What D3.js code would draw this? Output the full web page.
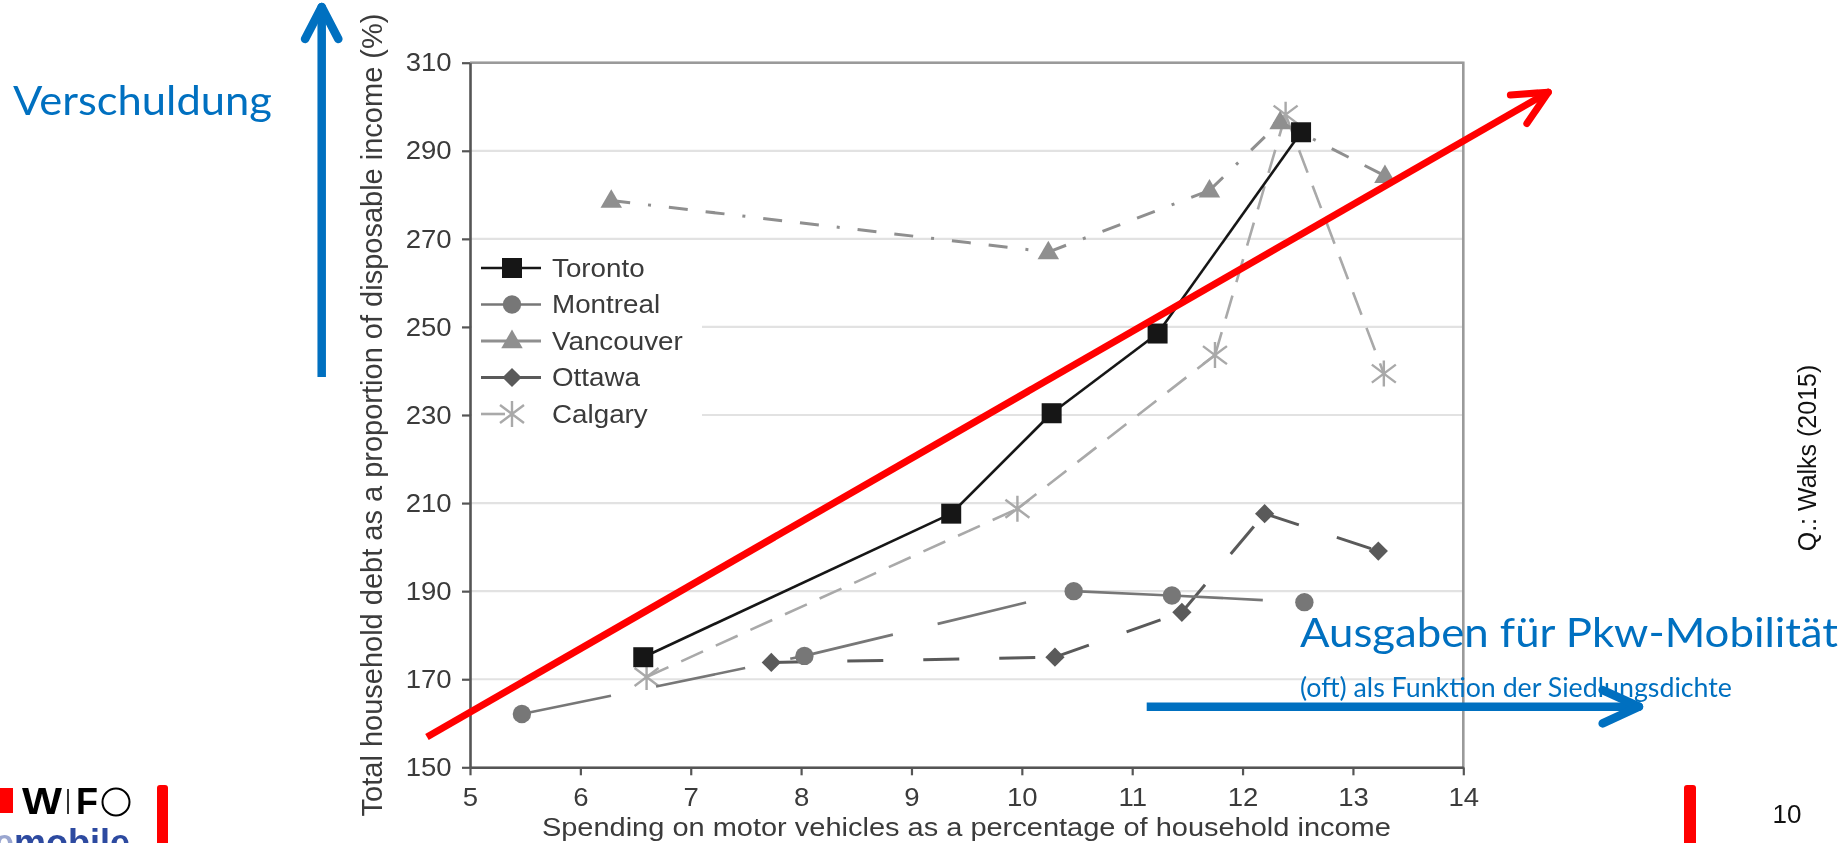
<!DOCTYPE html>
<html>
<head>
<meta charset="utf-8">
<script src="https://cdn.jsdelivr.net/npm/d3@7"></script>
<style>
  html, body { margin: 0; padding: 0; background: #fff; }
  svg { display: block; }
</style>
</head>
<body>
<svg id="slide" width="1848" height="843"></svg>
<script>
// Household debt vs. spending on motor vehicles for five Canadian cities (Walks 2015)
const cities = ["Toronto", "Montreal", "Vancouver", "Ottawa", "Calgary"];

// spending on motor vehicles (% of household income)
const torontoX   = [6.57, 9.36, 10.27, 11.23, 12.53];
const montrealX  = [5.47, 8.03, 10.47, 11.36, 12.56];
const vancouverX = [6.28, 10.24, 11.70, 12.34, 13.29];
const ottawaX    = [7.73, 10.30, 11.45, 12.20, 13.23];
const calgaryX   = [6.60, 9.96, 11.75, 12.39, 13.28];

// total household debt (% of disposable income)
const torontoY   = [175.0, 207.6, 230.4, 248.5, 294.2];
const montrealY  = [162.1, 175.3, 190.0, 189.0, 187.5];
const vancouverY = [278.7, 267.0, 281.0, 296.5, 284.3];
const ottawaY    = [173.8, 175.0, 185.2, 207.6, 199.1];
const calgaryY   = [170.5, 208.7, 243.6, 298.2, 239.4];

const xTicks = [5, 6, 7, 8, 9, 10, 11, 12, 13, 14];
const yTicks = [150, 170, 190, 210, 230, 250, 270, 290, 310];

// trend arrow drawn over the chart, in data units
const trendX = [4.61, 14.77];
const trendY = [156.9, 303.3];

const xTitle = "Spending on motor vehicles as a percentage of household income";
const yTitle = "Total household debt as a proportion of disposable income (%)";

const seriesX = { Toronto: torontoX, Montreal: montrealX, Vancouver: vancouverX, Ottawa: ottawaX, Calgary: calgaryX };
const seriesY = { Toronto: torontoY, Montreal: montrealY, Vancouver: vancouverY, Ottawa: ottawaY, Calgary: calgaryY };

const style = {
  Toronto:   { color: "#161616", width: 2.6, dash: null,                 offset: 0,  symbol: "square" },
  Montreal:  { color: "#777777", width: 2.6, dash: "91,46",              offset: 0,  symbol: "circle" },
  Vancouver: { color: "#8f8f8f", width: 3.0, dash: "19,18,19,18,3,18",   offset: 37, symbol: "triangle" },
  Ottawa:    { color: "#5a5a5a", width: 3.0, dash: "36,40",              offset: 0,  symbol: "diamond" },
  Calgary:   { color: "#a9a9a9", width: 2.6, dash: "24,14",              offset: 0,  symbol: "asterisk" }
};

const svg = d3.select("#slide");
const chartFont = "'Liberation Sans', Arial, Helvetica, sans-serif";
const noteFont = "Lato, 'Open Sans', sans-serif";
const blue = "#0070C0";
const inkGray = "#3a3a3a";
const labelSize = 25.5;   // chart lettering is slightly wide
const labelStretch = 1.08;

const defs = svg.append("defs");
defs.append("filter").attr("id", "soft")
  .attr("x", "-5%").attr("y", "-5%").attr("width", "110%").attr("height", "110%")
  .append("feGaussianBlur").attr("stdDeviation", 0.65);

const x = d3.scaleLinear().domain([5, 14]).range([470, 1463.3]);
const y = d3.scaleLinear().domain([150, 310]).range([767.3, 62.7]);

const chart = svg.append("g").attr("filter", "url(#soft)");

// horizontal grid
chart.append("g").selectAll("line").data(yTicks).join("line")
  .attr("x1", x(5)).attr("x2", x(14))
  .attr("y1", d => y(d)).attr("y2", d => y(d))
  .attr("stroke", "#e2e2e2").attr("stroke-width", 2.2);

// top and right frame
chart.append("path")
  .attr("d", `M${x(5)},${y(310)}H${x(14)}V${y(150)}`)
  .attr("fill", "none").attr("stroke", "#9a9a9a").attr("stroke-width", 2.6);

// axes
const yAxis = chart.append("g").attr("transform", `translate(${x(5)},0)`)
  .call(d3.axisLeft(y).tickValues(yTicks).tickSize(8).tickSizeOuter(0).tickPadding(9));
const xAxis = chart.append("g").attr("transform", `translate(0,${y(150)})`)
  .call(d3.axisBottom(x).tickValues(xTicks).tickSize(8).tickSizeOuter(0).tickPadding(13));
[yAxis, xAxis].forEach(a => {
  a.select(".domain").attr("stroke", "#555").attr("stroke-width", 2.6);
  a.selectAll(".tick line").attr("stroke", "#555").attr("stroke-width", 2.2);
  a.selectAll(".tick text").attr("fill", inkGray)
    .attr("transform", `scale(${labelStretch},1)`)
    .style("font-family", chartFont).style("font-size", labelSize + "px");
});

// axis titles
chart.append("text")
  .attr("x", 966.4).attr("y", 836)
  .attr("text-anchor", "middle").attr("fill", inkGray)
  .attr("textLength", 849).attr("lengthAdjust", "spacingAndGlyphs")
  .style("font-family", chartFont).style("font-size", "25.5px")
  .text(xTitle);
chart.append("text")
  .attr("transform", `translate(382,${(y(150) + y(310)) / 2}) rotate(-90)`)
  .attr("text-anchor", "middle").attr("fill", inkGray)
  .style("font-family", chartFont).style("font-size", "29px")
  .text(yTitle);

// marker shapes
function drawMarker(g, kind, color) {
  if (kind === "square") {
    g.append("path").attr("d", d3.symbol(d3.symbolSquare, 400)()).attr("fill", color);
  } else if (kind === "circle") {
    g.append("circle").attr("r", 9.2).attr("fill", color);
  } else if (kind === "triangle") {
    g.append("path").attr("d", d3.symbol(d3.symbolTriangle, 200)()).attr("fill", color)
      .attr("transform", "translate(0,1)");
  } else if (kind === "diamond") {
    g.append("path").attr("d", d3.symbol(d3.symbolSquare, 185)()).attr("fill", color)
      .attr("transform", "rotate(45)");
  } else if (kind === "asterisk") {
    g.append("path")
      .attr("d", "M0,-13V13M-12,-9L12,9M-12,9L12,-9")
      .attr("stroke", color).attr("stroke-width", 2.4).attr("fill", "none");
  }
}

// series: each segment restarts its dash pattern at the data point
const drawOrder = ["Calgary", "Vancouver", "Ottawa", "Montreal", "Toronto"];
drawOrder.forEach(city => {
  const s = style[city];
  const pts = seriesX[city].map((v, i) => [x(v), y(seriesY[city][i])]);
  const g = chart.append("g");
  d3.pairs(pts).forEach(([a, b]) => {
    g.append("line")
      .attr("x1", a[0]).attr("y1", a[1]).attr("x2", b[0]).attr("y2", b[1])
      .attr("stroke", s.color).attr("stroke-width", s.width)
      .attr("stroke-dasharray", s.dash).attr("stroke-dashoffset", s.offset);
  });
  pts.forEach(p => drawMarker(g.append("g").attr("transform", `translate(${p[0]},${p[1]})`), s.symbol, s.color));
});

// legend
const legend = chart.append("g");
legend.append("rect").attr("x", 472).attr("y", 246).attr("width", 230).attr("height", 186).attr("fill", "#fff");
const legendRows = [268, 304.5, 341, 377.5, 414];
cities.forEach((city, i) => {
  const s = style[city];
  const row = legend.append("g").attr("transform", `translate(0,${legendRows[i]})`);
  row.append("line").attr("x1", 481).attr("x2", 541).attr("y1", 0).attr("y2", 0)
    .attr("stroke", s.color).attr("stroke-width", s.width)
    .attr("stroke-dasharray", city === "Calgary" ? "24,60" : null);
  drawMarker(row.append("g").attr("transform", "translate(512,0)"), s.symbol, s.color);
  row.append("text").attr("x", 0).attr("y", 0).attr("dy", "0.35em")
    .attr("transform", `translate(552,0) scale(1.09,1)`)
    .attr("fill", inkGray).style("font-family", chartFont).style("font-size", "25.5px")
    .text(city);
});

// ---- slide annotations ----
function arrowHead(g, tip, angle, len, spread, color, width) {
  const back = angle + Math.PI;
  [spread, -spread].forEach(d => {
    g.append("line")
      .attr("x1", tip[0]).attr("y1", tip[1])
      .attr("x2", tip[0] + len * Math.cos(back + d)).attr("y2", tip[1] + len * Math.sin(back + d))
      .attr("stroke", color).attr("stroke-width", width).attr("stroke-linecap", "round");
  });
}

// red trend arrow
const notes = svg.append("g");
const t0 = [x(trendX[0]), y(trendY[0])], t1 = [x(trendX[1]), y(trendY[1])];
notes.append("line").attr("x1", t0[0]).attr("y1", t0[1]).attr("x2", t1[0]).attr("y2", t1[1])
  .attr("stroke", "#ff0000").attr("stroke-width", 7);
arrowHead(notes, t1, Math.atan2(t1[1] - t0[1], t1[0] - t0[0]), 38, 0.45, "#ff0000", 7);

// blue vertical arrow (debt)
notes.append("line").attr("x1", 321.7).attr("y1", 377).attr("x2", 321.7).attr("y2", 8)
  .attr("stroke", blue).attr("stroke-width", 8.5);
arrowHead(notes, [321.7, 7], -Math.PI / 2, 36, 0.48, blue, 8.5);

// blue horizontal arrow (spending)
notes.append("line").attr("x1", 1146.7).attr("y1", 706.7).attr("x2", 1638).attr("y2", 706.7)
  .attr("stroke", blue).attr("stroke-width", 8.5);
arrowHead(notes, [1639, 706.7], 0, 40, 0.43, blue, 8.5);

notes.append("text").attr("x", 13).attr("y", 115)
  .attr("textLength", 259).attr("lengthAdjust", "spacingAndGlyphs")
  .attr("fill", blue).style("font-family", noteFont).style("font-size", "41.5px")
  .text("Verschuldung");
notes.append("text").attr("x", 1300).attr("y", 647)
  .attr("textLength", 538).attr("lengthAdjust", "spacingAndGlyphs")
  .attr("fill", blue).style("font-family", noteFont).style("font-size", "41.5px")
  .text("Ausgaben für Pkw-Mobilität");
notes.append("text").attr("x", 1300).attr("y", 697)
  .attr("textLength", 432).attr("lengthAdjust", "spacingAndGlyphs")
  .attr("fill", blue).style("font-family", noteFont).style("font-size", "26px")
  .text("(oft) als Funktion der Siedlungsdichte");

// source note
notes.append("text")
  .attr("transform", "translate(1816,458) rotate(-90)")
  .attr("text-anchor", "middle").attr("fill", "#111")
  .style("font-family", chartFont).style("font-size", "25px")
  .text("Q.: Walks (2015)");

// page number
notes.append("text").attr("x", 1787).attr("y", 823).attr("text-anchor", "middle")
  .attr("fill", "#111").style("font-family", chartFont).style("font-size", "26px")
  .text("10");

// footer bars
notes.append("rect").attr("x", 157).attr("y", 785).attr("width", 11).attr("height", 70).attr("rx", 3).attr("fill", "#ff0000");
notes.append("rect").attr("x", 1684).attr("y", 785).attr("width", 12).attr("height", 70).attr("rx", 3).attr("fill", "#ff0000");

// WIFO logo
const logo = notes.append("g");
logo.append("rect").attr("x", 0).attr("y", 788).attr("width", 13).attr("height", 25).attr("fill", "#ff0000");
logo.append("text").attr("x", 22).attr("y", 814).attr("fill", "#000")
  .style("font-family", chartFont).style("font-weight", "bold").style("font-size", "36px")
  .attr("textLength", 40).attr("lengthAdjust", "spacingAndGlyphs").text("W");
logo.append("line").attr("x1", 68).attr("x2", 68).attr("y1", 789).attr("y2", 814)
  .attr("stroke", "#000").attr("stroke-width", 1.6);
logo.append("text").attr("x", 76).attr("y", 814).attr("fill", "#000")
  .style("font-family", chartFont).style("font-weight", "bold").style("font-size", "36px")
  .text("F");
logo.append("circle").attr("cx", 116).attr("cy", 802).attr("r", 13.5)
  .attr("fill", "none").attr("stroke", "#000").attr("stroke-width", 2);
const mob = logo.append("text").attr("x", -6).attr("y", 855)
  .style("font-family", chartFont).style("font-weight", "bold").style("font-size", "36px");
mob.append("tspan").attr("fill", "#9aa6d0").text("e");
mob.append("tspan").attr("fill", "#2d4aa0").text("mobile");
</script>
</body>
</html>
